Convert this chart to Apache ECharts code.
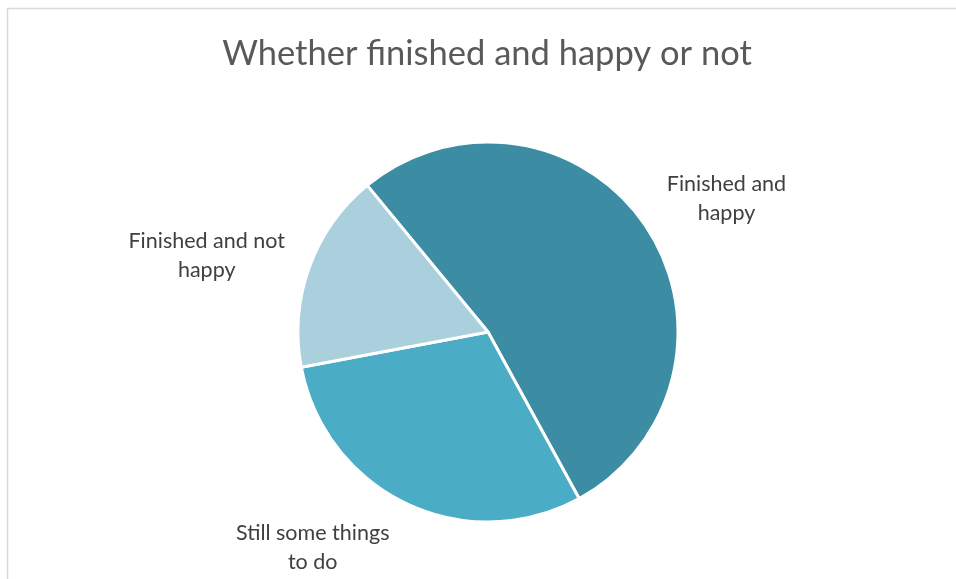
<!DOCTYPE html>
<html>
<head>
<meta charset="utf-8">
<script src="https://cdn.jsdelivr.net/npm/echarts@6/dist/echarts.min.js"></script>
<style>
html,body{margin:0;padding:0;background:#fff;}
#main{width:956px;height:579px;}
</style>
</head>
<body>
<div id="main"></div>
<script>
const titleText = 'Whether finished and happy or not';
const categories = ['Finished and\nhappy', 'Still some things\nto do', 'Finished and not\nhappy'];
const values = [53, 30, 17];
const colors = ['#3C8DA4', '#4BACC6', '#AACFDD'];

// label nudges (layout only)
const labelNudge = [[43, -4], [-72, 8], [-60, 2]];

const chart = echarts.init(document.getElementById('main'));
chart.setOption({
  animation: false,
  backgroundColor: '#ffffff',
  title: {
    text: titleText,
    left: 482,
    textAlign: 'center',
    top: 31,
    textStyle: { fontFamily: 'Lato', fontSize: 34.5, fontWeight: 'normal', color: '#595959' }
  },
  graphic: [{
    type: 'rect',
    shape: { x: 7.5, y: 8.5, width: 1200, height: 800 },
    style: { fill: 'none', stroke: '#d9d9d9', lineWidth: 1.5 },
    silent: true
  }],
  series: [{
    type: 'pie',
    center: [488, 332],
    radius: 190,
    startAngle: 129.5,
    clockwise: true,
    data: categories.map((c, i) => ({ name: c, value: values[i], itemStyle: { color: colors[i] } })),
    itemStyle: { borderColor: '#ffffff', borderWidth: 3 },
    label: {
      show: true,
      position: 'outside',
      formatter: '{b}',
      fontFamily: 'Lato',
      fontSize: 21.5,
      lineHeight: 29,
      color: '#404040',
      align: 'center'
    },
    labelLine: { show: false, length: 40, length2: 0 },
    labelLayout: function (p) {
      const n = labelNudge[p.dataIndex] || [0, 0];
      return { align: 'center', dx: n[0], dy: n[1] };
    }
  }]
});
</script>
</body>
</html>
